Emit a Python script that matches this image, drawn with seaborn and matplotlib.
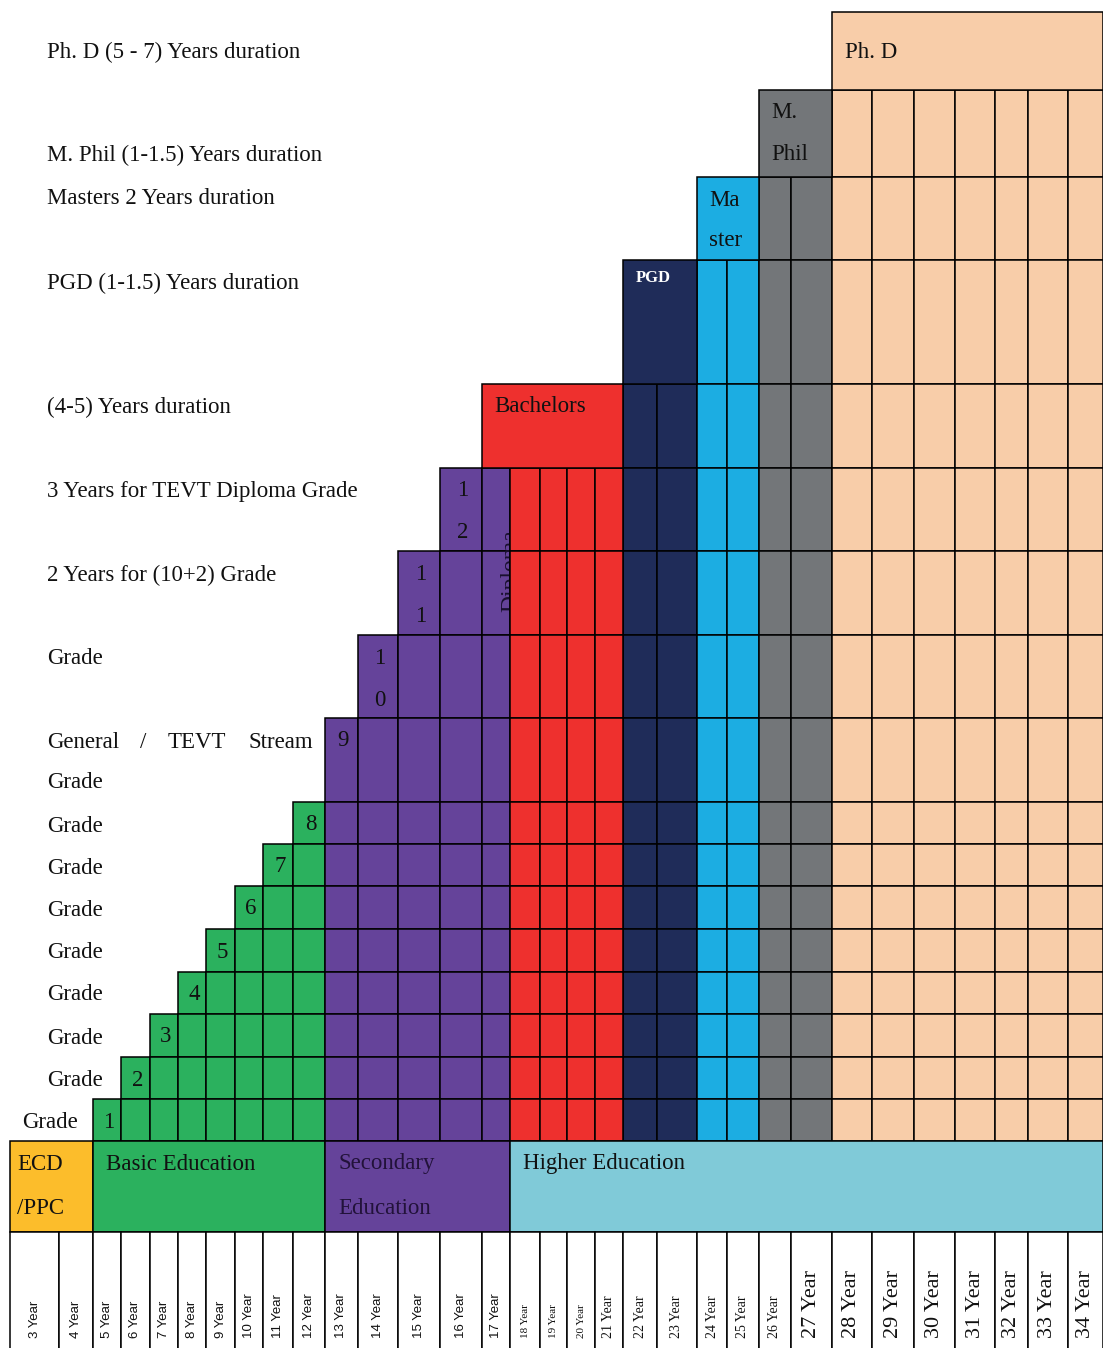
import matplotlib
matplotlib.use("Agg")
import matplotlib.pyplot as plt
from matplotlib.patches import Rectangle
import seaborn as sns

# ---- data ----
year_labels = ["3 Year", "4 Year", "5 Year", "6 Year", "7 Year", "8 Year", "9 Year",
               "10 Year", "11 Year", "12 Year", "13 Year", "14 Year", "15 Year",
               "16 Year", "17 Year", "18 Year", "19 Year", "20 Year", "21 Year",
               "22 Year", "23 Year", "24 Year", "25 Year", "26 Year", "27 Year",
               "28 Year", "29 Year", "30 Year", "31 Year", "32 Year", "33 Year", "34 Year"]

# stage that fills each year column
year_stage = ["ECD", "ECD",
              "Basic", "Basic", "Basic", "Basic", "Basic", "Basic", "Basic", "Basic",
              "Secondary", "Secondary", "Secondary", "Secondary", "Secondary",
              "Bachelors", "Bachelors", "Bachelors", "Bachelors",
              "PGD", "PGD", "Master", "Master", "M. Phil", "M. Phil",
              "Ph. D", "Ph. D", "Ph. D", "Ph. D", "Ph. D", "Ph. D", "Ph. D"]

# highest row reached by each year column (None = empty column)
year_top = [None, None,
            "Grade 1", "Grade 2", "Grade 3", "Grade 4", "Grade 5", "Grade 6", "Grade 7", "Grade 8",
            "Grade 9", "Grade 10", "Grade 11", "Grade 12", "Grade 12",
            "Grade 12", "Grade 12", "Grade 12", "Grade 12",
            "Bachelors", "Bachelors", "PGD", "PGD", "Master", "Master",
            "M. Phil", "M. Phil", "M. Phil", "M. Phil", "M. Phil", "M. Phil", "M. Phil"]

row_names = ["Ph. D", "M. Phil", "Master", "PGD", "Bachelors",
             "Grade 12", "Grade 11", "Grade 10", "Grade 9", "Grade 8", "Grade 7",
             "Grade 6", "Grade 5", "Grade 4", "Grade 3", "Grade 2", "Grade 1"]

grade_numbers = ["1", "2", "3", "4", "5", "6", "7", "8", "9", "10", "11", "12"]
grade_start_year = ["5 Year", "6 Year", "7 Year", "8 Year", "9 Year", "10 Year",
                    "11 Year", "12 Year", "13 Year", "14 Year", "15 Year", "16 Year"]

programs = ["Bachelors", "PGD", "Master", "M. Phil", "Ph. D"]
program_text = [["Bachelors"], ["PGD"], ["Ma", "ster"], ["M.", "Phil"], ["Ph. D"]]
program_first = ["17 Year", "22 Year", "24 Year", "26 Year", "28 Year"]
program_last = ["21 Year", "23 Year", "25 Year", "27 Year", "34 Year"]

bands = ["ECD", "Basic", "Secondary", "Higher"]
band_text = [["ECD", "/PPC"], ["Basic Education"], ["Secondary", "Education"], ["Higher Education"]]
band_first = ["3 Year", "5 Year", "13 Year", "18 Year"]
band_last = ["4 Year", "12 Year", "17 Year", "34 Year"]

side_text = ["Ph. D (5 - 7) Years duration", "M. Phil (1-1.5) Years duration",
             "Masters 2 Years duration", "PGD (1-1.5) Years duration",
             "(4-5) Years duration", "3 Years for TEVT Diploma Grade",
             "2 Years for (10+2) Grade", "Grade", "Grade", "Grade", "Grade",
             "Grade", "Grade", "Grade", "Grade", "Grade", "Grade"]

# ---- layout (pixels) ----
x_edges = [10, 59, 93, 121, 150, 178, 206, 235, 263, 293, 325, 358, 398, 440, 482, 510,
           540, 567, 595, 623, 657, 697, 727, 759, 791, 832, 872, 914, 955, 995, 1028,
           1068, 1103]
y_edges = [12, 90, 177, 260, 384, 468, 551, 635, 718, 802, 844, 886, 929, 972, 1014,
           1057, 1099, 1141]
band_top, band_bottom, year_bottom = 1141, 1232, 1360
side_x = [47] * 16 + [22]
side_y = [50, 153, 197, 281, 405, 489, 573, 656, 781, 824, 866, 908, 950, 992, 1036, 1078, 1120]
dy = 2  # small baseline nudge for text

colors = {"ECD": "#FCBD2B", "Basic": "#2BB15E", "Secondary": "#65439A",
          "Bachelors": "#EE302E", "PGD": "#1F2C59", "Master": "#1CADE2",
          "M. Phil": "#737679", "Ph. D": "#F8CDA9", "Higher": "#80CAD8"}

sns.set_theme(style="white")
plt.rcParams["font.family"] = ["Liberation Serif", "DejaVu Serif"]

fig = plt.figure(figsize=(11.03, 13.48), dpi=100)
ax = fig.add_axes([0, 0, 1, 1])
ax.set_xlim(0, 1103)
ax.set_ylim(1348, 0)
ax.axis("off")

lw = 1.1
fs = 16.5
col = {y: i for i, y in enumerate(year_labels)}
row = {r: i for i, r in enumerate(row_names)}

# grid cells of each year column
for i, (stage, top) in enumerate(zip(year_stage, year_top)):
    if top is None:
        continue
    z = 3 if stage == "Bachelors" else 1
    for r in range(row[top], len(row_names)):
        ax.add_patch(Rectangle((x_edges[i], y_edges[r]), x_edges[i + 1] - x_edges[i],
                               y_edges[r + 1] - y_edges[r], facecolor=colors[stage],
                               edgecolor="black", lw=lw, zorder=z))

# diploma text partly hidden by the bachelors cells
ax.text(511, 571, "Diploma", rotation=90, ha="center", va="center", fontsize=17,
        color="#1a1030", zorder=2)

# grade numbers in first cell of each grade row
for g, start in zip(grade_numbers, grade_start_year):
    i = col[start]
    r = row["Grade " + g]
    cx = (x_edges[i] + x_edges[i + 1]) / 2 + 2
    for k, ch in enumerate(g):
        ax.text(cx, y_edges[r] + 21 + 42 * k + dy, ch, ha="center", va="center",
                fontsize=fs, color="#111111", zorder=4)

# program header blocks
for p, lines, a, b in zip(programs, program_text, program_first, program_last):
    i0, i1 = col[a], col[b] + 1
    r = row[p]
    ax.add_patch(Rectangle((x_edges[i0], y_edges[r]), x_edges[i1] - x_edges[i0],
                           y_edges[r + 1] - y_edges[r], facecolor=colors[p],
                           edgecolor="black", lw=lw, zorder=3))
    if p == "PGD":
        ax.text(x_edges[i0] + 13, y_edges[r] + 16 + dy, lines[0], ha="left", va="center",
                fontsize=12, fontweight="bold", color="white", zorder=4)
    elif p == "Ph. D":
        ax.text(x_edges[i0] + 13, y_edges[r] + 38 + dy, lines[0], ha="left", va="center",
                fontsize=fs, color="#111111", zorder=4)
    else:
        for k, t in enumerate(lines):
            ax.text(x_edges[i0] + 12, y_edges[r] + 21 + 41 * k + dy, t, ha="left",
                    va="center", fontsize=fs, color="#111111", zorder=4)

# stage bands
for bnd, lines, a, b in zip(bands, band_text, band_first, band_last):
    i0, i1 = col[a], col[b] + 1
    ax.add_patch(Rectangle((x_edges[i0], band_top), x_edges[i1] - x_edges[i0],
                           band_bottom - band_top, facecolor=colors[bnd],
                           edgecolor="black", lw=lw, zorder=3))
    tc = "#22123a" if bnd == "Secondary" else "#111111"
    dx = 7 if bnd == "ECD" else 13
    for k, t in enumerate(lines):
        ax.text(x_edges[i0] + dx, band_top + 21 + 45 * k + dy, t, ha="left", va="center",
                fontsize=fs, color=tc, zorder=4)

# year row
for i, lab in enumerate(year_labels):
    ax.add_patch(Rectangle((x_edges[i], band_bottom), x_edges[i + 1] - x_edges[i],
                           year_bottom - band_bottom, facecolor="white",
                           edgecolor="black", lw=lw, zorder=3))
    n = int(lab.split()[0])
    if n <= 17:
        kw = dict(fontsize=9.5, family=["Liberation Sans", "DejaVu Sans"])
    elif n <= 20:
        kw = dict(fontsize=8)
    elif n <= 26:
        kw = dict(fontsize=10)
    else:
        kw = dict(fontsize=16)
    ax.text((x_edges[i] + x_edges[i + 1]) / 2, 1338, lab, rotation=90, ha="center",
            va="bottom", color="#111111", zorder=4, **kw)

# side labels
for t, x, y in zip(side_text, side_x, side_y):
    ax.text(x, y + dy, t, ha="left", va="center", fontsize=fs, color="#111111")
for w, x in zip(["General", "/", "TEVT", "Stream"], [47, 140, 168, 248]):
    ax.text(x, 740 + dy, w, ha="left", va="center", fontsize=fs, color="#111111")

fig.savefig("out.png", dpi=100)
